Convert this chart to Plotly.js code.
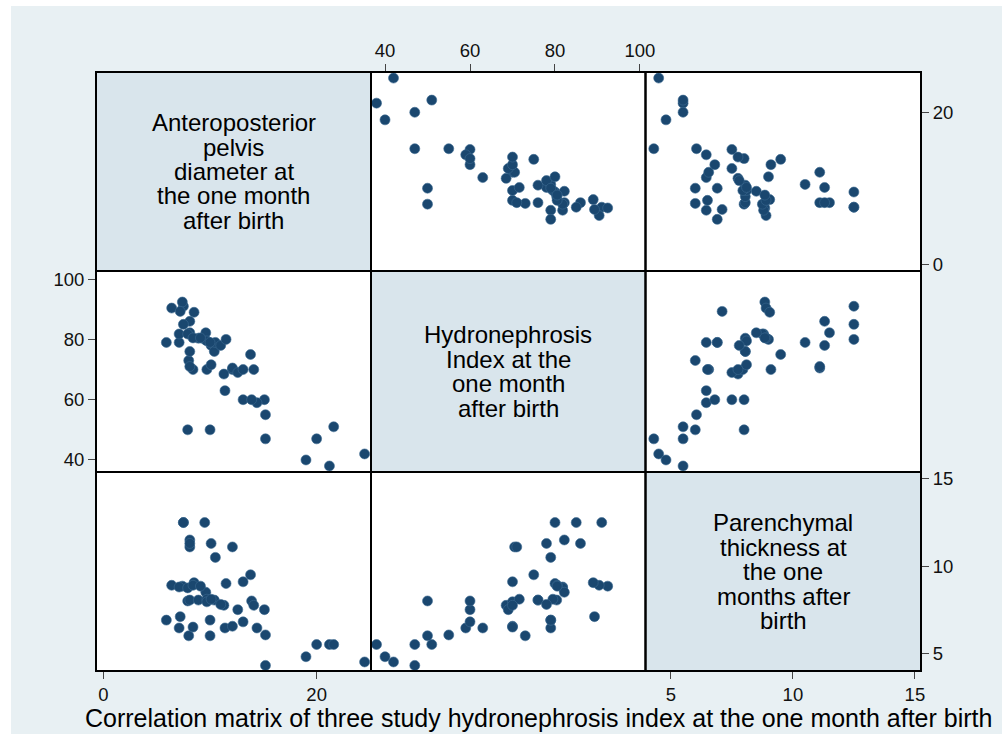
<!DOCTYPE html>
<html>
<head>
<meta charset="utf-8">
<script src="https://cdn.plot.ly/plotly-3.0.1.min.js"></script>
<style>html,body{margin:0;padding:0;background:#fff;}#chart{width:1002px;height:734px;}</style>
</head>
<body>
<div id="chart"></div>
<script>
// Anteroposterior pelvis diameter (APD), Hydronephrosis index (HI), Parenchymal thickness (PT)
const apd = [24.5, 21.2, 19.0, 20.0, 21.6, 15.2, 15.2, 15.1, 14.4, 13.1, 13.9, 8.0, 10.0, 7.9,
  11.4, 12.1, 8.4, 7.1, 11.3, 12.1, 10.1, 8.1, 8.1, 8.1, 7.5, 7.5, 9.5, 7.4, 5.9, 6.4, 7.2, 8.5,
  7.1, 7.9, 8.1, 8.9, 9.6, 9.7, 10.4, 10.5, 11.0, 11.5, 9.7, 10.1, 10.0, 12.6, 13.1, 13.8, 14.1, 8.4, 9.1];
const hi = [42, 38, 40, 47, 51, 47, 55, 60, 59, 60, 60, 73, 50, 50,
  63, 70, 70, 79, 68.5, 70.5, 78, 71, 82.2, 86, 91, 85, 80, 92.4, 79, 90.4, 89.3, 89,
  81.8, 81.8, 76, 80.4, 82.2, 79.5, 76, 79, 78, 80, 70, 71.6, 79, 69, 70, 75, 70, 80.5, 80.5];
const pt = [4.5, 5.5, 4.8, 5.5, 5.5, 4.3, 6.05, 7.5, 6.45, 6.8, 8.0, 6.0, 6.0, 8.0,
  6.45, 6.55, 6.5, 6.45, 7.75, 11.1, 11.3, 11.1, 11.5, 11.3, 12.5, 12.5, 12.5, 8.85, 6.9, 8.9, 7.1, 9.05,
  8.8, 8.75, 8.05, 8.05, 8.5, 8.1, 8.05, 10.5, 7.8, 9.0, 7.95, 8.1, 6.9, 7.5, 9.1, 9.5, 7.75, 8.9, 8.85];

const labels = [
  ["Anteroposterior", "pelvis", "diameter at", "the one month", "after birth"],
  ["Hydronephrosis", "Index at the", "one month", "after birth"],
  ["Parenchymal", "thickness at", "the one", "months after", "birth"]
];
const apdTicks = [0, 20];
const hiTicks = [40, 60, 80, 100];
const ptTicks = [5, 10, 15];
const titleText = "Correlation matrix of three study hydronephrosis index at the one month after birth";

const W = 1002, H = 734;
const colX = [96, 371, 645.5, 921];
const rowY = [72, 271, 472, 671];
const px = v => v / W;
const py = v => 1 - v / H;

const markerStyle = {size: 10, color: '#1a476f', line: {width: 0.6, color: '#3d6a90'}};
const FONT = 'Liberation Sans, Arial, sans-serif';

function tr(x, y, xa, ya) {
  return {type: 'scatter', mode: 'markers', x: x, y: y, xaxis: xa, yaxis: ya,
    marker: markerStyle, hoverinfo: 'x+y', showlegend: false};
}
const data = [
  tr(hi, apd, 'x2', 'y'),
  tr(pt, apd, 'x3', 'y'),
  tr(apd, hi, 'x', 'y2'),
  tr(pt, hi, 'x3', 'y2'),
  tr(apd, pt, 'x', 'y3'),
  tr(hi, pt, 'x2', 'y3')
];

const axCommon = {showgrid: false, zeroline: false, showline: false, ticks: 'outside',
  ticklen: 7, tickwidth: 1, tickcolor: '#444', tickmode: 'array',
  tickfont: {family: FONT, size: 18.5, color: '#111'}, fixedrange: true};

const shapes = [];
shapes.push({type: 'rect', xref: 'paper', yref: 'paper', x0: px(11), x1: 1, y0: 0, y1: py(6),
  fillcolor: '#e8f0f3', line: {width: 0}, layer: 'below'});
for (let r = 0; r < 3; r++) {
  for (let c = 0; c < 3; c++) {
    shapes.push({type: 'rect', xref: 'paper', yref: 'paper',
      x0: px(colX[c]), x1: px(colX[c + 1]), y0: py(rowY[r + 1]), y1: py(rowY[r]),
      fillcolor: r === c ? '#d9e5ec' : '#ffffff', line: {width: 0}, layer: 'below'});
  }
}
for (let r = 0; r < 3; r++) {
  for (let c = 0; c < 3; c++) {
    shapes.push({type: 'rect', xref: 'paper', yref: 'paper',
      x0: px(colX[c]), x1: px(colX[c + 1]), y0: py(rowY[r + 1]), y1: py(rowY[r]),
      fillcolor: 'rgba(0,0,0,0)', line: {width: 2, color: '#000'}, layer: 'above'});
  }
}

const annotations = [];
const lineGap = 24.5;
labels.forEach((lines, i) => {
  const cx = (colX[i] + colX[i + 1]) / 2;
  const cy = (rowY[i] + rowY[i + 1]) / 2;
  lines.forEach((t, k) => {
    annotations.push({xref: 'paper', yref: 'paper',
      x: px(cx), y: py(cy + (k - (lines.length - 1) / 2) * lineGap),
      text: t, showarrow: false, xanchor: 'center', yanchor: 'middle',
      font: {family: FONT, size: 24, color: '#000'}});
  });
});
annotations.push({xref: 'paper', yref: 'paper', x: px(538), y: py(718), text: titleText,
  showarrow: false, xanchor: 'center', yanchor: 'middle',
  font: {family: FONT, size: 25, color: '#000'}});

const layout = {
  width: W, height: H,
  margin: {l: 0, r: 0, t: 0, b: 0, pad: 0},
  paper_bgcolor: '#ffffff', plot_bgcolor: 'rgba(0,0,0,0)',
  showlegend: false,
  xaxis: Object.assign({}, axCommon, {domain: [px(colX[0]), px(colX[1])], range: [-0.7, 25.1],
    anchor: 'y3', side: 'bottom', tickvals: apdTicks}),
  xaxis2: Object.assign({}, axCommon, {domain: [px(colX[1]), px(colX[2])], range: [36.7, 101.3],
    anchor: 'y', side: 'top', tickvals: hiTicks}),
  xaxis3: Object.assign({}, axCommon, {domain: [px(colX[2]), px(colX[3])], range: [3.96, 15.25],
    anchor: 'y3', side: 'bottom', tickvals: ptTicks}),
  yaxis: Object.assign({}, axCommon, {domain: [py(rowY[1]), py(rowY[0])], range: [-0.9, 25.3],
    anchor: 'x3', side: 'right', tickvals: apdTicks}),
  yaxis2: Object.assign({}, axCommon, {domain: [py(rowY[2]), py(rowY[1])], range: [36, 102.7],
    anchor: 'x', side: 'left', tickvals: hiTicks}),
  yaxis3: Object.assign({}, axCommon, {domain: [py(rowY[3]), py(rowY[2])], range: [3.98, 15.4],
    anchor: 'x3', side: 'right', tickvals: ptTicks}),
  shapes: shapes,
  annotations: annotations
};

Plotly.newPlot('chart', data, layout, {displayModeBar: false, staticPlot: true});
</script>
</body>
</html>
